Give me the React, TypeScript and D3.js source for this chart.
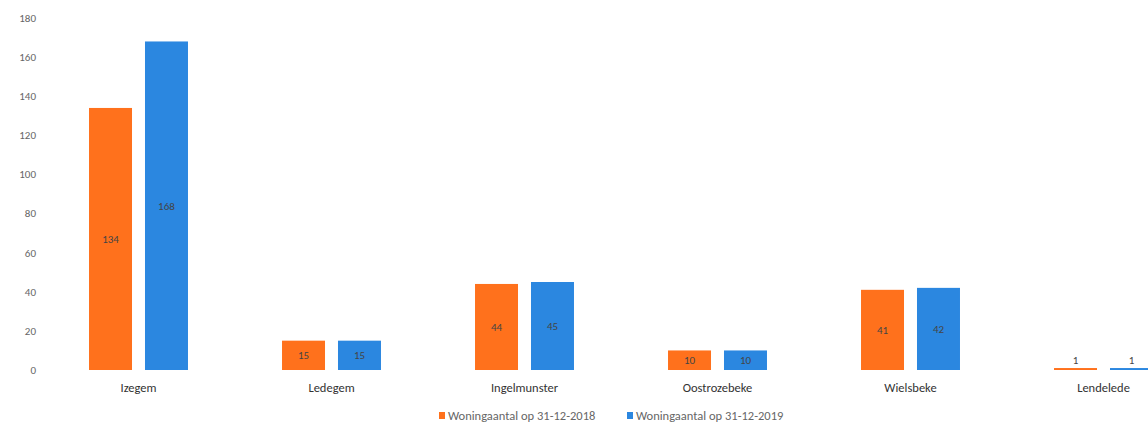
import React from "react";
import * as d3 from "d3";

const categories = ["Izegem", "Ledegem", "Ingelmunster", "Oostrozebeke", "Wielsbeke", "Lendelede"];
const values2018 = [134, 15, 44, 10, 41, 1];
const values2019 = [168, 15, 45, 10, 42, 1];
const seriesNames = ["Woningaantal op 31-12-2018", "Woningaantal op 31-12-2019"];
const yTicks = [0, 20, 40, 60, 80, 100, 120, 140, 160, 180];

const W = 1148;
const H = 423;
const COLORS = ["#ff711c", "#2b87e0"];

export default function App() {
  const x = d3.scaleBand<string>().domain(categories).range([42, 1200]).paddingInner(0).paddingOuter(0);
  const inner = d3.scaleBand<number>().domain([0, 1]).range([0, x.bandwidth()]).paddingInner(0.232).paddingOuter(0.84);
  const y = d3.scaleLinear().domain([0, 180]).range([370, 18]);
  const series = [values2018, values2019];

  return (
    <svg
      width={W}
      height={H}
      style={{ position: "absolute", left: 0, top: 0, background: "#fff", fontFamily: "Calibri, Carlito, 'Liberation Sans', sans-serif" }}
    >
      {yTicks.map((t) => (
        <text key={t} x={36} y={y(t)} dy="0.35em" textAnchor="end" fontSize={11} fill="#666">
          {t}
        </text>
      ))}
      {categories.map((c, i) => (
        <g key={c} transform={`translate(${x(c)},0)`}>
          {series.map((vals, s) => {
            const bx = inner(s)!;
            const bw = inner.bandwidth();
            const top = y(vals[i]);
            return (
              <g key={s}>
                <rect x={bx} y={top} width={bw} height={y(0) - top} fill={COLORS[s]} />
                <text
                  x={bx + bw / 2}
                  y={i === categories.length - 1 ? top - 8 : (top + y(0)) / 2}
                  dy="0.35em"
                  textAnchor="middle"
                  fontSize={11}
                  fill="#444"
                >
                  {vals[i]}
                </text>
              </g>
            );
          })}
          <text x={x.bandwidth() / 2} y={388} dy="0.35em" textAnchor="middle" fontSize={12.5} fill="#333">
            {c}
          </text>
        </g>
      ))}
      <g transform="translate(439,416)">
        {seriesNames.map((n, s) => (
          <g key={n} transform={`translate(${s * 188},0)`}>
            <rect x={0} y={-4} width={6} height={7} fill={COLORS[s]} />
            <text x={9} y={0} dy="0.35em" fontSize={12.5} fill="#666">
              {n}
            </text>
          </g>
        ))}
      </g>
    </svg>
  );
}
